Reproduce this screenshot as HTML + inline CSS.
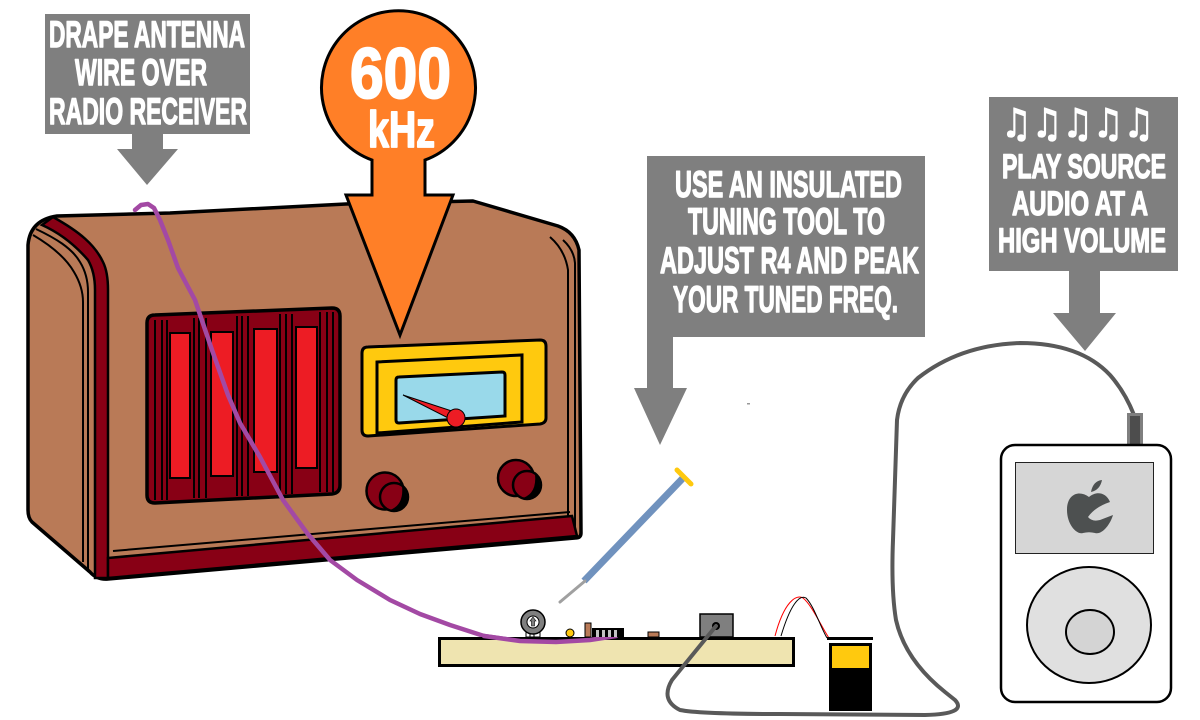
<!DOCTYPE html>
<html><head><meta charset="utf-8"><style>
html,body{margin:0;padding:0;background:#fff;}
svg{display:block;}
.t{font-family:"Liberation Sans",Arial,sans-serif;font-weight:bold;fill:#fff;stroke:#fff;stroke-width:1.4;stroke-linejoin:round;}
</style></head><body>
<svg width="1200" height="720" viewBox="0 0 1200 720" xmlns="http://www.w3.org/2000/svg">
<rect width="1200" height="720" fill="#fff"/>

<!-- RADIO -->
<path d="M57,216 L170,213 L346,204 L473,201 L558,226 Q575,232 579,250 L581,533 Q581,538 575,538 L108,579 Q97,580 90,572 L32,522 Q28,518 28,510 L28,245 Q30,220 57,216 Z" fill="#B97A57" stroke="#000" stroke-width="3.5" stroke-linejoin="round"/>
<path d="M53,217 C80,232 95,245 103,262 Q108,272 108,290 L108,578 L95,578 L95,290 Q95,272 88,260 C75,245 60,233 42,225 Z" fill="#880015" stroke="#000" stroke-width="2.5"/>
<path d="M36,229 C55,238 72,248 80,262 Q88,275 88,292 L88,572" fill="none" stroke="#000" stroke-width="2"/>
<path d="M33,235 C50,245 66,258 74,272 Q83,287 83,302 L83,562" fill="none" stroke="#000" stroke-width="2"/>
<path d="M550,237 Q565,250 568,270 L568,533" fill="none" stroke="#000" stroke-width="2"/>
<path d="M563,240 Q574,250 575,263 L575,535" fill="none" stroke="#000" stroke-width="2"/>
<!-- bottom band -->
<path d="M108,558 L572,516 L577,536 L108,578 Z" fill="#880015" stroke="#000" stroke-width="2.5"/>
<line x1="113" y1="551" x2="570" y2="512" stroke="#000" stroke-width="2"/>

<!-- grille -->
<path d="M155,315 L332,308 Q340,308 340,316 L340,485 Q340,493 332,494 L155,503 Q147,503 147,495 L147,323 Q147,315 155,315 Z" fill="#880015" stroke="#000" stroke-width="3.5"/>
<g stroke="#000" stroke-width="2">
<line x1="155" y1="320" x2="155" y2="500"/><line x1="162" y1="320" x2="162" y2="500"/><line x1="167" y1="320" x2="167" y2="500"/>
<line x1="194" y1="318" x2="194" y2="498"/><line x1="199" y1="318" x2="199" y2="498"/><line x1="206" y1="318" x2="206" y2="498"/>
<line x1="237" y1="316" x2="237" y2="496"/><line x1="242" y1="316" x2="242" y2="496"/><line x1="248" y1="316" x2="248" y2="496"/>
<line x1="280" y1="314" x2="280" y2="494"/><line x1="286" y1="314" x2="286" y2="494"/><line x1="292" y1="314" x2="292" y2="494"/>
<line x1="320" y1="312" x2="320" y2="492"/><line x1="327" y1="312" x2="327" y2="492"/><line x1="333" y1="312" x2="333" y2="492"/>
</g>
<g fill="#ED1C24" stroke="#000" stroke-width="2">
<rect x="170" y="333" width="20" height="145"/>
<rect x="211" y="332" width="22" height="144"/>
<rect x="254" y="329" width="23" height="143"/>
<rect x="296" y="327" width="21" height="141"/>
</g>

<!-- dial -->
<path d="M368,347 L540,340 Q546,340 546,346 L546,418 Q546,423 540,424 L368,436 Q362,436 362,430 L362,353 Q362,347 368,347 Z" fill="#FFC90E" stroke="#000" stroke-width="3"/>
<path d="M377,362 L522,355 L522,422 L377,433 Z" fill="none" stroke="#000" stroke-width="3"/>
<path d="M399,377 L502,372 Q505,372 505,375 L505,416 L399,423 Q396,423 396,420 L396,380 Q396,377 399,377 Z" fill="#99D9EA" stroke="#000" stroke-width="3"/>
<polygon points="403,395 458,413 454,421" fill="#ED1C24" stroke="#000" stroke-width="1"/>
<circle cx="456" cy="418" r="9" fill="#ED1C24" stroke="#000" stroke-width="1"/>

<!-- knobs -->
<circle cx="385" cy="491" r="18.5" fill="#880015" stroke="#000" stroke-width="2.5"/>
<circle cx="394" cy="497" r="14" fill="#880015" stroke="#000" stroke-width="2.5"/>
<path d="M402,486 Q412,497 402,509 Q396,512 390,510 Q404,505 402,486 Z" fill="#000"/>
<circle cx="516" cy="478" r="18" fill="#880015" stroke="#000" stroke-width="2.5"/>
<circle cx="527" cy="485" r="14" fill="#880015" stroke="#000" stroke-width="2.5"/>
<path d="M535,474 Q545,485 535,497 Q529,500 523,498 Q537,493 535,474 Z" fill="#000"/>

<!-- purple antenna wire -->
<polyline points="135,210 141,205 148,204 154,208 160,220 168,240 178,268 187,285 195,300 212,350 228,395 240,423 260,457 283,500 307,533 330,560 357,580 390,600 420,614 450,625 484,636 520,641 556,642 590,640 616,636" fill="none" stroke="#A349A4" stroke-width="4.5" stroke-linejoin="round" stroke-linecap="round"/>

<!-- orange balloon -->
<path d="M372,160 L372,195 L346,195 L400,335 L453,195 L425,195 L425,160 A77,77 0 1 0 372,160 Z" fill="#FF7F27" stroke="#000" stroke-width="3" stroke-linejoin="miter"/>
<text class="t" x="350" y="98" font-size="71" textLength="101" lengthAdjust="spacingAndGlyphs" style="stroke-width:2">600</text>
<text class="t" x="368" y="147" font-size="51" textLength="67" lengthAdjust="spacingAndGlyphs" style="stroke-width:1.8">kHz</text>

<!-- label 1 -->
<rect x="45" y="14" width="205" height="120" fill="#7F7F7F"/>
<polygon points="132,134 163,134 163,149 178,149 147,185 117,149 132,149" fill="#7F7F7F"/>
<text class="t" x="49" y="47" font-size="37" textLength="196" lengthAdjust="spacingAndGlyphs">DRAPE ANTENNA</text>
<text class="t" x="75" y="85" font-size="37" textLength="132" lengthAdjust="spacingAndGlyphs">WIRE OVER</text>
<text class="t" x="49" y="124" font-size="37" textLength="198" lengthAdjust="spacingAndGlyphs">RADIO RECEIVER</text>

<!-- label 3 -->
<rect x="647" y="156" width="278" height="181" fill="#7F7F7F"/>
<polygon points="647,337 673,337 673,388 687,388 660,445 634,388 647,388" fill="#7F7F7F"/>
<text class="t" x="675" y="197" font-size="37" textLength="227" lengthAdjust="spacingAndGlyphs">USE AN INSULATED</text>
<text class="t" x="688" y="234" font-size="37" textLength="197" lengthAdjust="spacingAndGlyphs">TUNING TOOL TO</text>
<text class="t" x="660" y="273" font-size="37" textLength="259" lengthAdjust="spacingAndGlyphs">ADJUST R4 AND PEAK</text>
<text class="t" x="673" y="312" font-size="37" textLength="225" lengthAdjust="spacingAndGlyphs">YOUR TUNED FREQ.</text>

<!-- label 4 -->
<rect x="989" y="97" width="189" height="174" fill="#7F7F7F"/>
<polygon points="1069,271 1100,271 1100,313 1116,313 1085,351 1053,313 1069,313" fill="#7F7F7F"/>
<text x="1001" y="137" font-size="40" font-weight="bold" font-family="DejaVu Sans, sans-serif" fill="#fff" stroke="#fff" stroke-width="1" textLength="153" lengthAdjust="spacingAndGlyphs">♫♫♫♫♫</text>
<text class="t" x="1002" y="178" font-size="34" textLength="164" lengthAdjust="spacingAndGlyphs">PLAY SOURCE</text>
<text class="t" x="1012" y="215" font-size="34" textLength="136" lengthAdjust="spacingAndGlyphs">AUDIO AT A</text>
<text class="t" x="998" y="252" font-size="34" textLength="168" lengthAdjust="spacingAndGlyphs">HIGH VOLUME</text>

<!-- tuning tool -->
<line x1="684" y1="477" x2="584" y2="581" stroke="#7092BE" stroke-width="7"/>
<line x1="585" y1="581" x2="560" y2="602" stroke="#A0A0A0" stroke-width="3" stroke-linecap="round"/>
<line x1="677" y1="470" x2="691" y2="484" stroke="#FFC90E" stroke-width="5" stroke-linecap="round"/>
<rect x="747" y="403" width="3" height="1.5" fill="#999"/>

<!-- board -->
<rect x="439.5" y="638.5" width="354" height="27" fill="#EFE4B0" stroke="#000" stroke-width="3"/>
<polyline points="484,636 520,641 556,642 590,640 616,636" fill="none" stroke="#A349A4" stroke-width="4.5" stroke-linecap="round"/>
<!-- components -->
<rect x="526" y="630" width="14" height="7" fill="#fff" stroke="#000" stroke-width="1"/>
<line x1="530" y1="630" x2="530" y2="637" stroke="#000"/><line x1="534" y1="630" x2="534" y2="637" stroke="#000"/>
<circle cx="533" cy="622" r="12" fill="#7F7F7F" stroke="#000" stroke-width="1.5"/>
<circle cx="533" cy="622" r="6" fill="#fff" stroke="#000" stroke-width="1"/>
<path d="M533,617 L536,621 L534.5,621 L534.5,626 L531.5,626 L531.5,621 L530,621 Z" fill="#7F7F7F" stroke="#000" stroke-width="0.6"/>
<circle cx="570" cy="633" r="4" fill="#FFC90E" stroke="#000" stroke-width="1"/>
<rect x="585" y="623" width="6" height="14" fill="#B97A57" stroke="#000" stroke-width="1"/>
<rect x="592" y="628" width="32" height="9" fill="#000"/>
<g fill="#C3C3C3"><rect x="596" y="630" width="3" height="7"/><rect x="602" y="630" width="3" height="7"/><rect x="608" y="630" width="3" height="7"/><rect x="614" y="630" width="3" height="7"/></g>
<rect x="648" y="632" width="11" height="5" fill="#B97A57" stroke="#000" stroke-width="1"/>
<rect x="700" y="614" width="33" height="23" fill="#7F7F7F" stroke="#000" stroke-width="1.5"/>
<circle cx="716" cy="626" r="4" fill="#000"/>

<!-- battery wires -->
<path d="M775,636 C784,602 796,594 803,598 C812,605 822,628 829,638" fill="none" stroke="#ff0000" stroke-width="1"/>
<path d="M781,636 C790,606 799,594 806,598 C814,606 820,626 827,638" fill="none" stroke="#000" stroke-width="1"/>
<!-- battery -->
<rect x="827" y="637" width="46" height="3" fill="#000"/>
<rect x="829" y="643" width="43" height="68" fill="#000"/>
<rect x="832" y="646" width="37" height="22" fill="#FFC90E"/>

<!-- audio cable -->
<path d="M716,626 L672,680 Q660,700 680,710 Q700,714 780,714 L925,715 Q968,714 955,700 L945,692 Q905,660 896,620 Q891,590 893,540 L897,420 Q900,395 918,378 Q960,345 1020,343 Q1080,343 1110,375 Q1125,392 1134,415" fill="none" stroke="#595959" stroke-width="4" stroke-linejoin="round" stroke-linecap="round"/>

<!-- iPod -->
<rect x="1127" y="413" width="16" height="32" fill="#7F7F7F"/>
<rect x="1130" y="416" width="10" height="28" fill="#4D4D4D"/>
<rect x="1001" y="445" width="170" height="257" rx="14" fill="#fff" stroke="#000" stroke-width="2.5"/>
<rect x="1015.5" y="462.5" width="138" height="91" fill="#D6D6D6" stroke="#222" stroke-width="1"/>
<path d="M1089,497 C1080,490 1067,493 1067,510 C1067,525 1077,535 1083,533 C1087,532 1091,532 1095,533 C1102,535 1110,525 1113,515 L1100,520 Q1092,522 1088,517 Q1095,507 1110,502 C1106,492 1096,491 1089,497 Z" fill="#4D5050"/>
<path d="M1091,492 Q1093,481 1102,480 Q1100,490 1091,492 Z" fill="#4D5050"/>
<circle cx="1099" cy="512" r="1.3" fill="#D6D6D6"/>
<ellipse cx="1089" cy="625" rx="62" ry="58" fill="#E0E0E0" stroke="#000" stroke-width="2"/>
<ellipse cx="1090" cy="632" rx="24" ry="22" fill="#D4D4D4" stroke="#000" stroke-width="2"/>
</svg>
</body></html>
